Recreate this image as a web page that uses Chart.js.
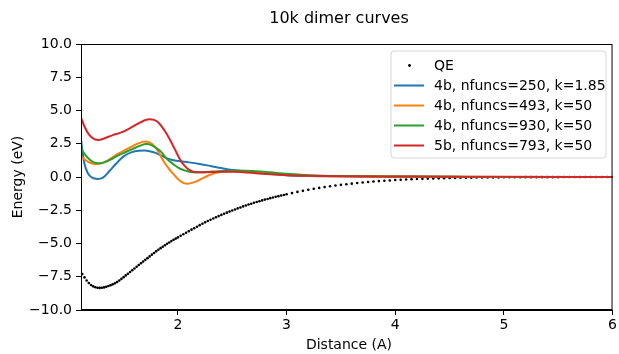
<!DOCTYPE html>
<html>
<head>
<meta charset="utf-8">
<script src="https://cdn.jsdelivr.net/npm/chart.js@4.4.0/dist/chart.umd.min.js"></script>
<style>
  html, body { margin: 0; padding: 0; background: #fff; }
  #wrap { width: 619px; height: 354px; }
</style>
</head>
<body>
<div id="wrap"><canvas id="chart" width="619" height="354"></canvas></div>
<script>
const FONT = '"DejaVu Sans", sans-serif';

const xTicks = [2, 3, 4, 5, 6];
const yTicks = [-10, -7.5, -5, -2.5, 0, 2.5, 5, 7.5, 10];

const labels = ['QE', '4b, nfuncs=250, k=1.85', '4b, nfuncs=493, k=50', '4b, nfuncs=930, k=50', '5b, nfuncs=793, k=50'];
const colors = ['#000000', '#1f77b4', '#ff7f0e', '#2ca02c', '#d62728'];

// QE reference points
const qeX = [1.10, 1.12, 1.14, 1.16, 1.18, 1.20, 1.22, 1.24, 1.26, 1.28, 1.30, 1.32, 1.34, 1.36, 1.38, 1.40,
  1.42, 1.44, 1.46, 1.48, 1.50, 1.52, 1.54, 1.56, 1.58, 1.60, 1.62, 1.64, 1.66, 1.68, 1.70, 1.72, 1.74, 1.76,
  1.78, 1.80, 1.82, 1.84, 1.86, 1.88, 1.90, 1.92, 1.94, 1.96, 1.98,
  2.000, 2.025, 2.050, 2.075, 2.100, 2.125, 2.150, 2.175, 2.200, 2.225, 2.250, 2.275, 2.300, 2.325, 2.350, 2.375,
  2.400, 2.425, 2.450, 2.475, 2.500, 2.525, 2.550, 2.575, 2.600, 2.625, 2.650, 2.675, 2.700, 2.725, 2.750, 2.775,
  2.800, 2.825, 2.850, 2.875, 2.900, 2.925, 2.950, 2.975,
  3.00, 3.05, 3.10, 3.15, 3.20, 3.25, 3.30, 3.35, 3.40, 3.45, 3.50, 3.55, 3.60, 3.65, 3.70, 3.75, 3.80, 3.85,
  3.90, 3.95, 4.00, 4.05, 4.10, 4.15, 4.20, 4.25, 4.30, 4.35, 4.40, 4.45, 4.50, 4.55, 4.60, 4.65, 4.70, 4.75,
  4.80, 4.85, 4.90, 4.95, 5.00, 5.05, 5.10, 5.15, 5.20, 5.25, 5.30, 5.35, 5.40, 5.45, 5.50, 5.55, 5.60, 5.65,
  5.70, 5.75, 5.80, 5.85, 5.90, 5.95, 6.00];
const qeE = [-7.00, -7.30, -7.55, -7.78, -7.97, -8.12, -8.22, -8.29, -8.33, -8.34, -8.33, -8.30, -8.26, -8.20, -8.14, -8.07,
  -7.99, -7.89, -7.78, -7.66, -7.53, -7.40, -7.27, -7.14, -7.01, -6.88, -6.75, -6.62, -6.49, -6.36, -6.23, -6.10, -5.97, -5.84,
  -5.71, -5.59, -5.47, -5.35, -5.24, -5.13, -5.02, -4.92, -4.82, -4.72, -4.63,
  -4.54, -4.42, -4.31, -4.19, -4.07, -3.96, -3.85, -3.74, -3.62, -3.52, -3.41, -3.31, -3.21, -3.12, -3.03, -2.94,
  -2.85, -2.76, -2.68, -2.60, -2.52, -2.44, -2.36, -2.29, -2.21, -2.14, -2.07, -2.01, -1.94, -1.88, -1.82, -1.76,
  -1.70, -1.65, -1.59, -1.54, -1.49, -1.44, -1.39, -1.35,
  -1.30, -1.21, -1.12, -1.04, -0.96, -0.89, -0.82, -0.76, -0.70, -0.64, -0.59, -0.54, -0.50, -0.45, -0.41, -0.38, -0.34, -0.31,
  -0.28, -0.26, -0.23, -0.21, -0.19, -0.17, -0.15, -0.14, -0.12, -0.11, -0.10, -0.09, -0.08, -0.07, -0.06, -0.06, -0.05, -0.04,
  -0.04, -0.03, -0.03, -0.03, -0.02, -0.02, -0.02, -0.02, -0.01, -0.01, -0.01, -0.01, -0.01, -0.01, -0.01, 0.00, 0.00, 0.00,
  0.00, 0.00, 0.00, 0.00, 0.00, 0.00, 0.00];

// 4b, nfuncs=250, k=1.85
const blueX = [1.108, 1.12, 1.14, 1.17, 1.21, 1.26, 1.31, 1.37, 1.43, 1.50, 1.57, 1.64, 1.69, 1.75, 1.80, 1.85, 1.90, 1.95,
  2.00, 2.10, 2.20, 2.30, 2.40, 2.50, 2.60, 2.70, 2.80, 2.90, 3.00, 3.20, 3.50, 4.00, 4.50, 5.00, 6.00];
const blueE = [2.90, 2.00, 1.00, 0.30, -0.05, -0.15, -0.05, 0.45, 1.00, 1.55, 1.85, 1.98, 1.99, 1.92, 1.80, 1.60, 1.40, 1.28,
  1.20, 1.10, 0.98, 0.83, 0.67, 0.53, 0.45, 0.37, 0.28, 0.20, 0.14, 0.08, 0.05, 0.02, 0.01, 0.00, 0.00];

// 4b, nfuncs=493, k=50
const orangeX = [1.108, 1.13, 1.17, 1.22, 1.27, 1.32, 1.38, 1.45, 1.52, 1.58, 1.64, 1.70, 1.74, 1.78, 1.82, 1.86, 1.90, 1.95,
  2.00, 2.04, 2.08, 2.12, 2.17, 2.23, 2.29, 2.36, 2.45, 2.54, 2.63, 2.72, 2.85, 3.00, 3.20, 3.50, 4.00, 4.50, 5.00, 6.00];
const orangeE = [1.55, 1.40, 1.15, 1.00, 0.98, 1.10, 1.38, 1.75, 2.05, 2.30, 2.55, 2.66, 2.58, 2.35, 1.90, 1.30, 0.80, 0.30,
  -0.15, -0.40, -0.50, -0.46, -0.33, -0.08, 0.15, 0.33, 0.42, 0.45, 0.43, 0.38, 0.27, 0.16, 0.09, 0.05, 0.02, 0.01, 0.00, 0.00];

// 4b, nfuncs=930, k=50
const greenX = [1.108, 1.13, 1.17, 1.22, 1.27, 1.32, 1.38, 1.45, 1.52, 1.58, 1.65, 1.71, 1.76, 1.80, 1.85, 1.90, 1.96, 2.02,
  2.08, 2.14, 2.22, 2.30, 2.42, 2.54, 2.63, 2.72, 2.85, 3.00, 3.20, 3.50, 4.00, 4.50, 5.00, 6.00];
const greenE = [2.16, 1.85, 1.45, 1.12, 1.03, 1.10, 1.30, 1.62, 1.88, 2.10, 2.35, 2.48, 2.38, 2.18, 1.85, 1.35, 0.95, 0.62,
  0.45, 0.35, 0.35, 0.40, 0.46, 0.48, 0.47, 0.44, 0.35, 0.24, 0.14, 0.07, 0.03, 0.01, 0.00, 0.00];

// 5b, nfuncs=793, k=50
const redX = [1.108, 1.14, 1.18, 1.23, 1.27, 1.32, 1.40, 1.48, 1.56, 1.63, 1.69, 1.74, 1.78, 1.82, 1.86, 1.90, 1.94, 1.98,
  2.02, 2.06, 2.10, 2.14, 2.18, 2.25, 2.35, 2.50, 2.60, 2.72, 2.85, 3.00, 3.20, 3.50, 4.00, 4.50, 5.00, 6.00];
const redE = [4.46, 3.80, 3.20, 2.85, 2.78, 2.90, 3.15, 3.35, 3.68, 4.00, 4.25, 4.35, 4.30, 4.10, 3.70, 3.20, 2.60, 1.95,
  1.30, 0.85, 0.55, 0.40, 0.35, 0.36, 0.38, 0.40, 0.36, 0.28, 0.20, 0.13, 0.09, 0.06, 0.04, 0.02, 0.01, 0.00];

function pts (xs, ys) {
  return xs.map((x, i) => ({ x, y: ys[i] }));
}

function lineSet (i, xs, ys) {
  return {
    label: labels[i],
    data: pts(xs, ys),
    showLine: true,
    borderColor: colors[i],
    borderWidth: 2,
    pointRadius: 0,
    cubicInterpolationMode: 'monotone',
    order: 5 - i,
  };
}

// frame, title, axis titles, legend
const decorations = {
  id: 'decorations',
  afterDraw (chart) {
    const { ctx, chartArea: a } = chart;
    ctx.save();
    ctx.strokeStyle = '#000';
    ctx.lineWidth = 1;
    ctx.strokeRect(a.left + 0.5, a.top + 0.5, a.right - a.left - 1, a.bottom - a.top - 1);

    ctx.fillStyle = '#000';
    ctx.textAlign = 'center';
    ctx.textBaseline = 'middle';
    ctx.font = '16px ' + FONT;
    ctx.fillText('10k dimer curves', 339, 18.5);

    ctx.font = '14px ' + FONT;
    ctx.fillText('Distance (A)', 349, 345);
    ctx.save();
    ctx.translate(18, (a.top + a.bottom) / 2);
    ctx.rotate(-Math.PI / 2);
    ctx.fillText('Energy (eV)', 0, 0);
    ctx.restore();

    // legend box
    const bx = 391, by = 51, bw = 215, bh = 107, r = 3;
    ctx.beginPath();
    ctx.moveTo(bx + r, by);
    ctx.arcTo(bx + bw, by, bx + bw, by + bh, r);
    ctx.arcTo(bx + bw, by + bh, bx, by + bh, r);
    ctx.arcTo(bx, by + bh, bx, by, r);
    ctx.arcTo(bx, by, bx + bw, by, r);
    ctx.closePath();
    ctx.fillStyle = 'rgba(255,255,255,0.8)';
    ctx.fill();
    ctx.strokeStyle = '#d6d6d6';
    ctx.stroke();

    ctx.textAlign = 'left';
    labels.forEach((label, i) => {
      const y = 65.5 + i * 20;
      if (i === 0) {
        ctx.beginPath();
        ctx.arc(409.5, y, 1.4, 0, Math.PI * 2);
        ctx.fillStyle = '#000';
        ctx.fill();
      }
      else {
        ctx.beginPath();
        ctx.moveTo(394, y);
        ctx.lineTo(424, y);
        ctx.strokeStyle = colors[i];
        ctx.lineWidth = 2;
        ctx.stroke();
      }
      ctx.fillStyle = '#000';
      ctx.fillText(label, 434, y + 0.5);
    });
    ctx.restore();
  },
};

const tickFont = { family: FONT, size: 14 };

new Chart(document.getElementById('chart'), {
  type: 'scatter',
  data: {
    datasets: [
      {
        label: labels[0],
        data: pts(qeX, qeE),
        showLine: false,
        pointRadius: 1.3,
        pointBorderWidth: 0,
        pointBackgroundColor: '#000',
        pointHoverRadius: 1.3,
        order: 5,
      },
      lineSet(1, blueX, blueE),
      lineSet(2, orangeX, orangeE),
      lineSet(3, greenX, greenE),
      lineSet(4, redX, redE),
    ],
  },
  options: {
    responsive: false,
    animation: false,
    devicePixelRatio: 1,
    layout: { padding: { top: 44, right: 6, left: 0, bottom: 0 } },
    plugins: {
      legend: { display: false },
      tooltip: { enabled: false },
      title: { display: false },
    },
    scales: {
      x: {
        type: 'linear',
        min: 1.108,
        max: 6,
        afterFit (s) { s.height = 44; },
        afterBuildTicks (s) { s.ticks = xTicks.map((v) => ({ value: v })); },
        ticks: { font: tickFont, color: '#000', padding: 2, maxRotation: 0, autoSkip: false },
        grid: { drawOnChartArea: false, drawTicks: true, tickLength: 5, tickColor: '#000' },
        border: { display: true, color: '#000', width: 1 },
      },
      y: {
        min: -10,
        max: 10,
        afterFit (s) { s.width = 81; },
        afterBuildTicks (s) { s.ticks = yTicks.map((v) => ({ value: v })); },
        ticks: {
          font: tickFont,
          color: '#000',
          padding: 4,
          autoSkip: false,
          callback: (v) => v.toFixed(1).replace('-', '\u2212'),
        },
        grid: { drawOnChartArea: false, drawTicks: true, tickLength: 5, tickColor: '#000' },
        border: { display: true, color: '#000', width: 1 },
      },
    },
  },
  plugins: [decorations],
});
</script>
</body>
</html>
